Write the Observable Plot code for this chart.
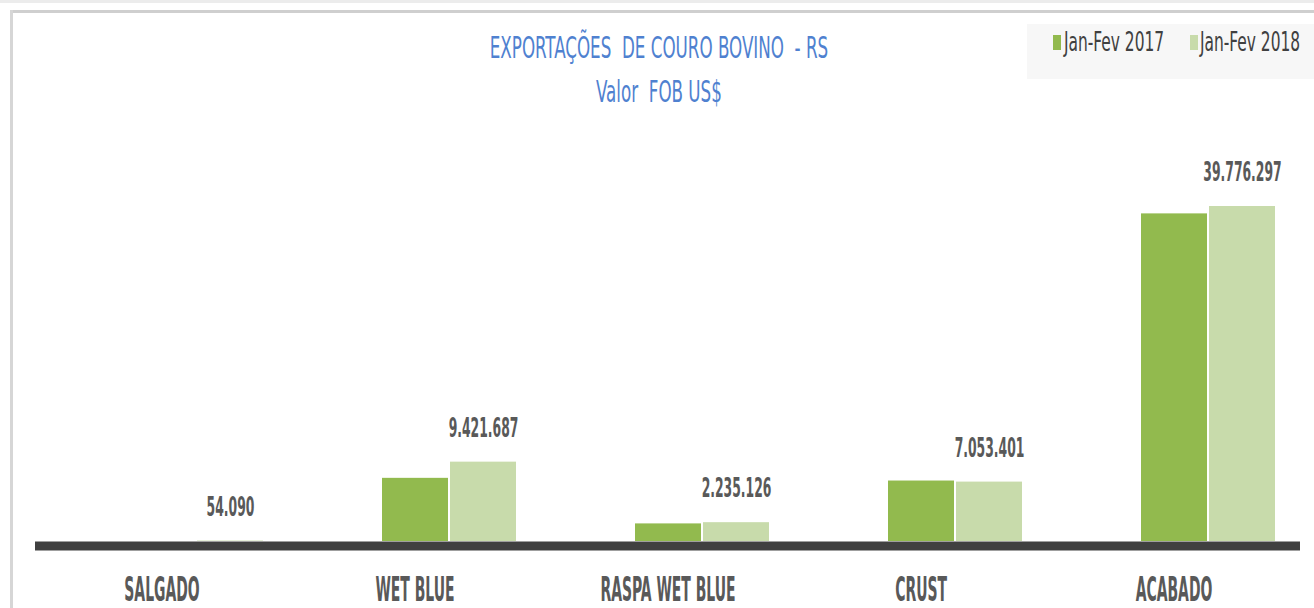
<!DOCTYPE html>
<html><head><meta charset="utf-8">
<script src="https://cdn.jsdelivr.net/npm/d3@7"></script>
<script src="https://cdn.jsdelivr.net/npm/@observablehq/plot@0.6"></script>
<style>
body{margin:0;width:1314px;height:608px;overflow:hidden;background:#fff;position:relative;font-family:"DejaVu Sans Condensed","DejaVu Sans",sans-serif;}
#chart{position:absolute;left:0;top:0;}
.strip{position:absolute;left:0;top:0;width:1314px;height:3px;background:#ececec;}
.frameTop{position:absolute;left:10px;top:10px;width:1304px;height:3px;background:#cfcfcf;}
.frameLeft{position:absolute;left:10px;top:10px;width:3px;height:598px;background:#d6d6d6;}
#title{position:absolute;left:4px;width:1310px;text-align:center;top:26px;color:#4f81d0;font-size:30px;line-height:44px;transform:scaleX(0.62);transform-origin:655px 0;}
#legendBox{position:absolute;left:1027px;top:24px;width:287px;height:55px;background:#f7f7f7;}
.sw{position:absolute;top:35px;width:8px;height:15px;}
.lt{position:absolute;top:27px;font-size:26px;line-height:30px;color:#404040;white-space:nowrap;transform:scaleX(0.66);transform-origin:0 0;}
</style>
</head><body>
<div class="strip"></div>
<div id="chart"></div>
<div class="frameTop"></div>
<div class="frameLeft"></div>
<div id="title">EXPORTAÇÕES&nbsp; DE COURO BOVINO&nbsp; - RS<br>Valor&nbsp; FOB US$</div>
<div id="legendBox"></div>
<script>
const categories = ["SALGADO", "WET BLUE", "RASPA WET BLUE", "CRUST", "ACABADO"];
const series = ["Jan-Fev 2017", "Jan-Fev 2018"];
const values2017 = [0, 7500000, 2090000, 7180000, 38900000];
const values2018 = [54090, 9421687, 2235126, 7053401, 39776297];
const colors = ["#92ba4e", "#c8dbab"];

const data = [];
categories.forEach((c, i) => {
  data.push({cat: c, s: series[0], v: values2017[i]});
  data.push({cat: c, s: series[1], v: values2018[i]});
});
const fmt = d3.formatLocale({decimal: ",", thousands: ".", grouping: [3], currency: ["US$", ""]}).format(",d");

const font = '"DejaVu Sans Condensed","DejaVu Sans",sans-serif';
const chart = Plot.plot({
  width: 1314,
  height: 608,
  marginLeft: 33,
  marginRight: 13,
  marginTop: 130,
  marginBottom: 67,
  style: {fontFamily: font, background: "transparent"},
  fx: {domain: categories, paddingInner: 0, paddingOuter: 0, axis: null},
  x: {domain: [" ", ...series], paddingInner: 0.03, paddingOuter: 0.36, axis: null},
  y: {domain: [0, 48800000], axis: null},
  color: {domain: series, range: colors},
  marks: [
    Plot.barY(data, {fx: "cat", x: "s", y: "v", fill: "s"}),
    Plot.text(data.filter(d => d.s === series[1]), {fx: "cat", x: "s", y: "v", text: d => fmt(d.v), dy: -34, fontSize: 27, fontWeight: "bold", fill: "#595959", className: "vlab"}),
    Plot.ruleY([0], {stroke: "#404040", strokeWidth: 9, dy: 4.5}),
    Plot.axisFx({anchor: "bottom", tickSize: 0, tickPadding: 36, fontSize: 33, fontWeight: "bold", color: "#595959", label: null, className: "clab"})
  ]
});
document.getElementById("chart").appendChild(chart);

// condense text horizontally (around its centre) to mimic the narrow typeface
function squeeze(sel, k) {
  chart.querySelectorAll(sel).forEach(t => {
    const g = document.createElementNS("http://www.w3.org/2000/svg", "g");
    t.parentNode.insertBefore(g, t);
    g.appendChild(t);
    const b = g.getBBox();
    const cx = b.x + b.width / 2;
    g.setAttribute("transform", `translate(${cx},0) scale(${k},1) translate(${-cx},0)`);
  });
}
squeeze(".vlab text", 0.51);
squeeze(".clab text", 0.47);

// legend
const swX = [1053, 1190], txX = [1064, 1200];
series.forEach((s, i) => {
  const sw = document.createElement("div");
  sw.className = "sw";
  sw.style.left = swX[i] + "px";
  sw.style.background = colors[i];
  document.body.appendChild(sw);
  const t = document.createElement("div");
  t.className = "lt";
  t.style.left = txX[i] + "px";
  t.textContent = s;
  document.body.appendChild(t);
});
</script>
</body></html>
